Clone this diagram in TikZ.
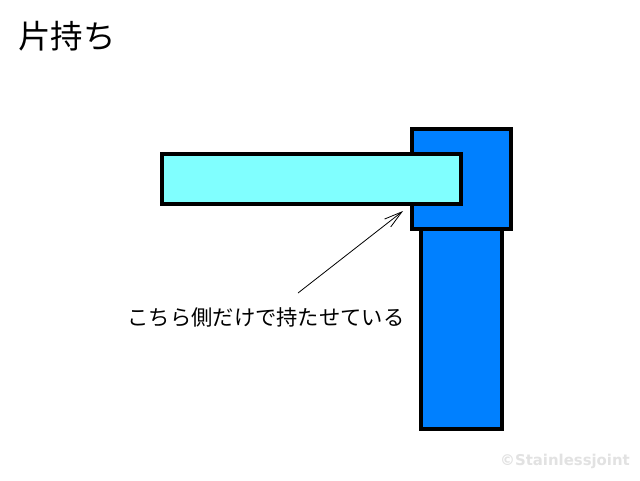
\documentclass[tikz,border=0pt]{standalone}
\usepackage{fontspec}
\setmainfont{Noto Sans CJK JP}
\newfontfamily\wmfont{DejaVu Sans}
\usetikzlibrary{arrows.meta}
\definecolor{pillar}{RGB}{0,128,255}
\definecolor{bar}{RGB}{128,255,255}
\definecolor{wm}{RGB}{226,226,226}
\begin{document}
\begin{tikzpicture}[x=1pt,y=-1pt,
  part/.style={draw=black, line width=4pt, inner sep=0pt, outer sep=0pt, anchor=north west},
  callout/.style={line width=0.8pt, -{Straight Barb[length=18pt,width=10pt,line width=0.8pt]}}]
\useasboundingbox (0,0) rectangle (640,480);
\fill[white] (0,0) rectangle (640,480);
\node[anchor=west, font=\fontsize{32.5}{33}\selectfont, inner sep=0pt] (title) at (18,36) {片持ち};
\node[part, fill=pillar, minimum width=81pt, minimum height=202pt] (lower) at (421,227) {};
\node[part, fill=pillar, minimum width=99pt, minimum height=100pt] (upper) at (412,129) {};
\node[part, fill=bar, minimum width=299pt, minimum height=50pt] (beam) at (162,154) {};
\node[font=\fontsize{21.3}{22}\selectfont, inner sep=0pt] (label) at (266,317) {こちら側だけで持たせている};
\coordinate (tail) at (298,293);
\coordinate (tip) at (403,211);
\draw[callout] (tail) -- (tip);
\node[anchor=east, font=\wmfont\bfseries\fontsize{14.9}{15}\selectfont, text=wm, inner sep=0pt] (mark) at (630,461) {©Stainlessjoint};
\end{tikzpicture}
\end{document}
